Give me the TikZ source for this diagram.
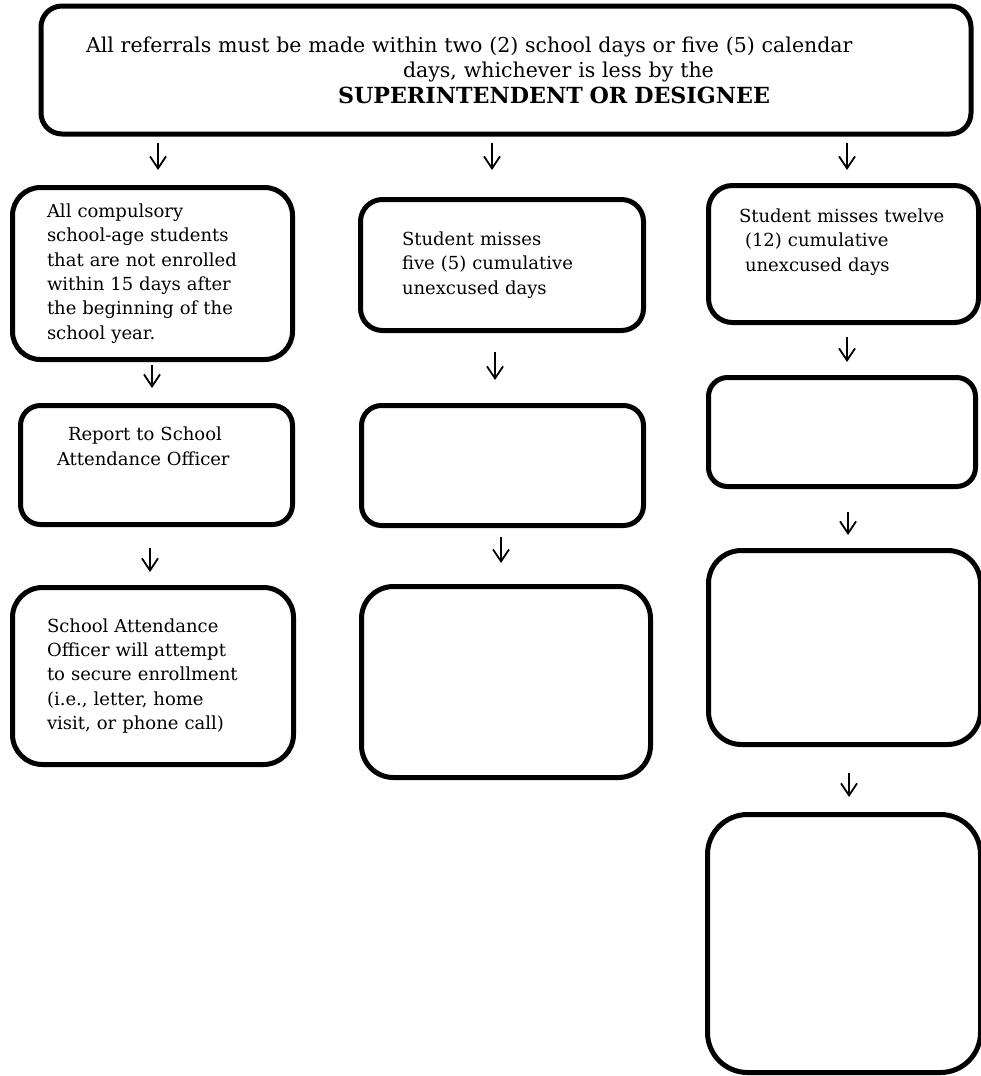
\documentclass[tikz,border=0pt]{standalone}
\usepackage{fontspec}
\setmainfont{DejaVu Serif}
\usetikzlibrary{arrows.meta}

\tikzset{
  stepbox/.style={draw, line width=5pt, rounded corners=#1, inner sep=0pt, outer sep=0pt,
    align=left, font=\fontsize{18}{24.4}\selectfont},
  stepbox/.default=22pt,
  flow/.style={-{Straight Barb[length=12pt,width=16pt]}, line width=1.8pt},
}

\begin{document}
\begin{tikzpicture}[x=1pt,y=-1pt]
	\useasboundingbox (0,0) rectangle (980,1076);
	% referral box
	\node[stepbox=21pt, minimum width=930pt, minimum height=128pt, text width=840pt, font=\fontsize{20.5}{25.5}\selectfont] (top) at (506,70) {All referrals must be made within two (2) school days or five (5) calendar\\\hspace*{317pt}days, whichever is less by the\\\hspace*{252pt}{\fontsize{22.2}{25.5}\selectfont\textbf{SUPERINTENDENT OR DESIGNEE}}};
	% left column
	\node[stepbox=28pt, minimum width=280pt, minimum height=172pt, text width=211pt] (l1) at (152.5,273.5) {All compulsory\\school-age students\\that are not enrolled\\within 15 days after\\the beginning of the\\school year.};
	\node[stepbox=20pt, minimum width=272pt, minimum height=119pt, text width=199pt] (l2) at (156.5,465) {\hspace*{11pt}Report to School\\Attendance Officer\\[13.6pt]\mbox{}};
	\node[stepbox=30pt, minimum width=281pt, minimum height=177pt, text width=212pt] (l3) at (153,676) {School Attendance\\Officer will attempt\\to secure enrollment\\(i.e., letter, home\\visit, or phone call)};
	% middle column
	\node[stepbox=22pt, minimum width=283pt, minimum height=131pt, text width=200pt] (m1) at (502,265) {Student misses\\five (5) cumulative\\unexcused days};
	\node[stepbox=20pt, minimum width=282pt, minimum height=120pt] (m2) at (502.5,465.5) {};
	\node[stepbox=32pt, minimum width=289pt, minimum height=191pt] (m3) at (506,682) {};
	% right column
	\node[stepbox=24pt, minimum width=270pt, minimum height=137pt, text width=209pt] (r1) at (843.5,254) {\mbox{Student misses twelve}\\\hspace*{6pt}(12) cumulative\\\hspace*{6pt}unexcused days\\[4pt]\mbox{}};
	\node[stepbox=19pt, minimum width=267pt, minimum height=109pt] (r2) at (842,432) {};
	\node[stepbox=33pt, minimum width=272pt, minimum height=194pt] (r3) at (844.5,647.5) {};
	\node[stepbox=40pt, minimum width=273pt, minimum height=258pt] (r4) at (844,943.5) {};
	% arrow columns
	\coordinate (ca) at (158,0);
	\coordinate (cb) at (492,0);
	\coordinate (cc) at (847,0);
	\coordinate (cl1) at (152,0);
	\coordinate (cl2) at (150,0);
	\coordinate (cm1) at (495,0);
	\coordinate (cm2) at (501,0);
	\coordinate (cr1) at (847,0);
	\coordinate (cr2) at (848,0);
	\coordinate (cr3) at (849,0);
	\draw[flow, shorten <=9pt, shorten >=17.5pt] (top.south -| ca) -- (l1.north -| ca);
	\draw[flow, shorten <=9pt, shorten >=29.5pt] (top.south -| cb) -- (m1.north -| cb);
	\draw[flow, shorten <=9pt, shorten >=15.5pt] (top.south -| cc) -- (r1.north -| cc);
	\draw[flow, shorten <=5.5pt, shorten >=17.5pt] (l1.south -| cl1) -- (l2.north -| cl1);
	\draw[flow, shorten <=23.5pt, shorten >=15.5pt] (l2.south -| cl2) -- (l3.north -| cl2);
	\draw[flow, shorten <=21.5pt, shorten >=25.5pt] (m1.south -| cm1) -- (m2.north -| cm1);
	\draw[flow, shorten <=11.5pt, shorten >=23.5pt] (m2.south -| cm2) -- (m3.north -| cm2);
	\draw[flow, shorten <=14.5pt, shorten >=15.5pt] (r1.south -| cr1) -- (r2.north -| cr1);
	\draw[flow, shorten <=25.5pt, shorten >=15.5pt] (r2.south -| cr2) -- (r3.north -| cr2);
	\draw[flow, shorten <=28.5pt, shorten >=17.5pt] (r3.south -| cr3) -- (r4.north -| cr3);
\end{tikzpicture}
\end{document}
